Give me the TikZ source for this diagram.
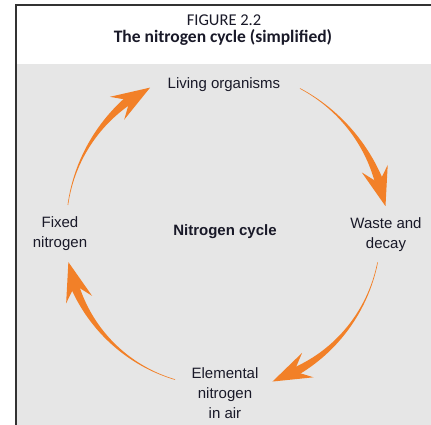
\documentclass[tikz,border=0pt]{standalone}
\usepackage{fontspec}
\setmainfont{Liberation Sans}
\newfontfamily\hdrfont{Carlito}
\definecolor{arrowcol}{RGB}{242,128,40}
\definecolor{panelgray}{RGB}{230,230,230}
\definecolor{framecol}{RGB}{50,50,50}
\definecolor{txtcol}{RGB}{25,25,40}
\newcommand{\brusharrow}[4]{%
  \pgfmathsetmacro{\bodyend}{#2+8}%
  \fill[arrowcol]
    plot[domain=0:1,samples=50,variable=\t]
      ({222+(#3+(#4-#3)*\t+(0.3+4.2*\t*\t))*cos(#1+(\bodyend-#1)*\t)},
       {190+(#3+(#4-#3)*\t+(0.3+4.2*\t*\t))*sin(#1+(\bodyend-#1)*\t)})
    -- plot[domain=1:0,samples=50,variable=\t]
      ({222+(#3+(#4-#3)*\t-(0.3+4.2*\t*\t))*cos(#1+(\bodyend-#1)*\t)},
       {190+(#3+(#4-#3)*\t-(0.3+4.2*\t*\t))*sin(#1+(\bodyend-#1)*\t)})
    -- cycle;
  \begin{scope}[shift={({222+#4*cos(#2)},{190+#4*sin(#2)})},rotate={#2-84}]
    \fill[arrowcol] (0,0) -- (-39,13.5) -- (-24,0) -- (-39,-13.5) -- cycle;
  \end{scope}}
\tikzset{
  lbl/.style={text=txtcol,font=\fontsize{15}{20}\selectfont,align=center,inner sep=0pt},
}
\begin{document}
\begin{tikzpicture}[x=1pt,y=1pt]
\useasboundingbox (0,0) rectangle (431,425);
\fill[white] (0,0) rectangle (431,425);
\fill[panelgray] (16,0) rectangle (431,361);
\draw[framecol,line width=1.6pt] (16,0) -- (16,420) -- (431,420);
\node[text=txtcol,font=\hdrfont\fontsize{16.5}{19}\selectfont,anchor=base] (fig) at (224,399) {FIGURE 2.2};
\node[text=txtcol,font=\hdrfont\bfseries\fontsize{17.5}{20}\selectfont,anchor=base] (title) at (223,382.5) {The nitrogen cycle (simplified)};
\node[lbl,anchor=base] (living) at (224,336.5) {Living organisms};
\node[lbl] (waste) at (386,190) {Waste and\\decay};
\node[lbl] (fixed) at (60,191) {Fixed\\nitrogen};
\node[lbl,font=\bfseries\fontsize{15}{20}\selectfont,anchor=base] (cycle) at (225,189) {Nitrogen cycle};
\node[lbl] (elem) at (225,32) {Elemental\\nitrogen\\in air};
\brusharrow{62}{10}{166}{166}
\brusharrow{-10}{-71}{158}{155}
\brusharrow{-108}{-170}{152}{156}
\brusharrow{169}{116}{157}{164}
\end{tikzpicture}
\end{document}
